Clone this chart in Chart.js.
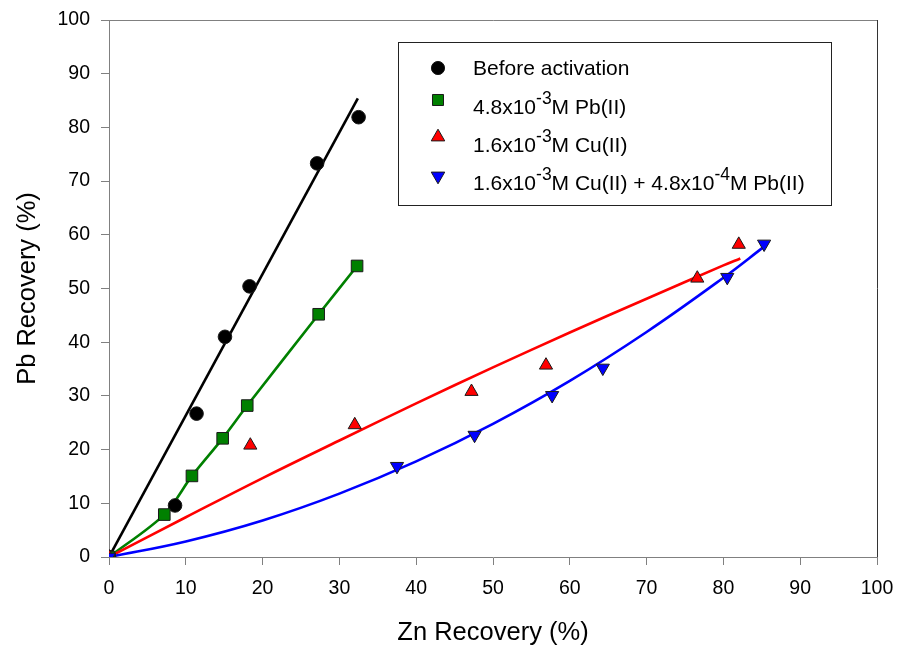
<!DOCTYPE html>
<html><head><meta charset="utf-8">
<script src="https://cdn.jsdelivr.net/npm/chart.js@4.4.1/dist/chart.umd.min.js"></script>
<style>html,body{margin:0;padding:0;background:#fff}#wrap{width:898px;height:648px;position:relative}</style>
</head><body><div id="wrap"><canvas id="c" width="898" height="648"></canvas></div>
<script>
// ---- data ----
const beforeX = [0, 8.6, 11.4, 15.1, 18.3, 27.1, 32.5];
const beforeY = [0, 9.6, 26.7, 41.0, 50.4, 73.3, 81.9];
const pbX = [0, 7.2, 10.8, 14.8, 18.0, 27.3, 32.3];
const pbY = [0, 7.9, 15.1, 22.1, 28.2, 45.2, 54.2];
const cuX = [0, 18.4, 32.0, 47.2, 56.9, 76.6, 82.0];
const cuY = [0, 20.8, 24.6, 30.8, 35.7, 51.9, 58.2];
const cuPbX = [0, 37.5, 47.6, 57.7, 64.3, 80.5, 85.3];
const cuPbY = [0, 16.9, 22.7, 30.1, 35.2, 52.1, 58.3];
// fitted curves
const beforeFitX = [0, 32.4];
const beforeFitY = [0, 85.4];
const pbFitX = pbX;
const pbFitY = pbY;
const cuFitX = [0, 10, 20, 30, 40, 50, 60, 70, 80, 82.2];
const cuFitY = [0, 7.4, 14.7, 21.7, 28.6, 35.3, 41.8, 48.1, 54.3, 55.6];
const cuPbFitX = [0, 10, 20, 30, 40, 50, 60, 70, 80, 85.3];
const cuPbFitY = [0, 2.9, 6.8, 11.8, 17.8, 24.8, 32.8, 41.9, 52.0, 57.8];
const xTicks = [0, 10, 20, 30, 40, 50, 60, 70, 80, 90, 100];
const yTicks = [0, 10, 20, 30, 40, 50, 60, 70, 80, 90, 100];
// legend labels: alternating normal text / superscript
const legendLabels = [
  ['Before activation'],
  ['4.8x10', '-3', 'M Pb(II)'],
  ['1.6x10', '-3', 'M Cu(II)'],
  ['1.6x10', '-3', 'M Cu(II) + 4.8x10', '-4', 'M Pb(II)']
];

const FONT = "'Liberation Sans', Arial, sans-serif";
const pts = (xs, ys) => xs.map((x, i) => ({x: x, y: ys[i]}));

const styles = [
  {color: '#000000', shape: 'circle', r: 6.8, rot: 0},
  {color: '#008000', shape: 'rect', r: 8.2, rot: 0},
  {color: '#ff0000', shape: 'triangle', r: 7.6, rot: 0},
  {color: '#0000ff', shape: 'triangle', r: 7.6, rot: 180}
];

function scat(xs, ys, s, order) {
  return {type: 'scatter', data: pts(xs, ys), showLine: false,
    pointStyle: s.shape, pointRadius: s.r, pointRotation: s.rot,
    pointBackgroundColor: s.color, pointBorderColor: '#1a1a1a', pointBorderWidth: 1,
    pointHoverRadius: s.r, order: order};
}
function fit(xs, ys, color, order, smooth) {
  return {type: 'scatter', data: pts(xs, ys), showLine: true, pointRadius: 0, pointHoverRadius: 0,
    borderColor: color, borderWidth: 2.6, fill: false, order: order,
    cubicInterpolationMode: 'default', tension: smooth};
}

function drawShape(ctx, s, x, y, r) {
  ctx.save();
  ctx.fillStyle = s.color; ctx.strokeStyle = '#1a1a1a'; ctx.lineWidth = 1;
  ctx.beginPath();
  if (s.shape === 'circle') {
    ctx.arc(x, y, r, 0, Math.PI * 2);
  } else if (s.shape === 'rect') {
    const h = r * Math.SQRT1_2;
    ctx.rect(x - h, y - h, 2 * h, 2 * h);
  } else {
    const dir = s.rot === 180 ? -1 : 1;
    ctx.moveTo(x, y - dir * r);
    ctx.lineTo(x + r * Math.sin(Math.PI / 3), y + dir * r * 0.5);
    ctx.lineTo(x - r * Math.sin(Math.PI / 3), y + dir * r * 0.5);
    ctx.closePath();
  }
  ctx.fill(); ctx.stroke();
  ctx.restore();
}

const framePlugin = {
  id: 'frame',
  beforeDatasetsDraw(chart) {
    const a = chart.chartArea, ctx = chart.ctx;
    ctx.save();
    ctx.strokeStyle = '#808080'; ctx.lineWidth = 1;
    ctx.beginPath();
    ctx.moveTo(a.left, a.top + 0.5); ctx.lineTo(a.right + 0.5, a.top + 0.5);
    ctx.stroke();
    ctx.strokeStyle = '#333333';
    ctx.beginPath();
    ctx.moveTo(a.right + 0.5, a.top); ctx.lineTo(a.right + 0.5, a.bottom);
    ctx.stroke();
    ctx.restore();
  },
  afterDraw(chart) {
    const ctx = chart.ctx;
    ctx.save();
    ctx.fillStyle = '#ffffff';
    ctx.fillRect(398, 42, 434, 163);
    ctx.strokeStyle = '#222222'; ctx.lineWidth = 1;
    ctx.strokeRect(398.5, 42.5, 433, 163);
    const markerY = [68, 100, 137, 176];
    const baseY = [75, 113.5, 152, 190];
    const legR = [6.6, 7.8, 7.8, 7.8];
    ctx.textBaseline = 'alphabetic';
    legendLabels.forEach((parts, i) => {
      drawShape(ctx, styles[i], 438, markerY[i], legR[i]);
      let x = 473;
      parts.forEach((p, j) => {
        const sup = j % 2 === 1;
        ctx.font = (sup ? '17.5px ' : '21px ') + FONT;
        ctx.fillStyle = '#000000';
        ctx.fillText(p, x, baseY[i] - (sup ? 10 : 0));
        x += ctx.measureText(p).width;
      });
    });
    ctx.restore();
  }
};

const axisCommon = {
  type: 'linear', min: 0, max: 100,
  grid: {display: true, drawOnChartArea: false, drawTicks: true, tickLength: 8, tickColor: '#808080', tickWidth: 1},
  border: {display: true, color: '#808080', width: 1}
};

new Chart(document.getElementById('c'), {
  type: 'scatter',
  data: {datasets: [
    scat(cuPbX, cuPbY, styles[3], 0),
    scat(cuX, cuY, styles[2], 1),
    scat(pbX, pbY, styles[1], 2),
    scat(beforeX, beforeY, styles[0], 3),
    fit(cuPbFitX, cuPbFitY, '#0000ff', 10, 0.4),
    fit(cuFitX, cuFitY, '#ff0000', 11, 0.4),
    fit(pbFitX, pbFitY, '#008000', 12, 0.3),
    fit(beforeFitX, beforeFitY, '#000000', 13, 0)
  ]},
  options: {
    responsive: false, animation: false, devicePixelRatio: 1,
    layout: {padding: {left: 0, right: 21, top: 20, bottom: 0}},
    plugins: {legend: {display: false}, tooltip: {enabled: false}},
    scales: {
      x: Object.assign({}, axisCommon, {
        position: 'bottom',
        afterBuildTicks(s) { s.ticks = xTicks.map(v => ({value: v})); },
        ticks: {color: '#000', font: {family: FONT, size: 19.5}, padding: 12, maxRotation: 0, autoSkip: false},
        title: {display: true, text: 'Zn Recovery (%)', color: '#000', font: {family: FONT, size: 25.5}, padding: {top: 0, bottom: 0}},
        afterFit(s) { s.height = 91; s.paddingLeft = 0; s.paddingRight = 0; }
      }),
      y: Object.assign({}, axisCommon, {
        position: 'left',
        afterBuildTicks(s) { s.ticks = yTicks.map(v => ({value: v})); },
        ticks: {color: '#000', font: {family: FONT, size: 19.5}, padding: 11, autoSkip: false},
        title: {display: true, text: 'Pb Recovery (%)', color: '#000', font: {family: FONT, size: 25.5}, padding: {top: 13, bottom: 0}},
        afterFit(s) { s.width = 109; s.paddingTop = 0; s.paddingBottom = 0; }
      })
    }
  },
  plugins: [framePlugin]
});
</script>
</body></html>
